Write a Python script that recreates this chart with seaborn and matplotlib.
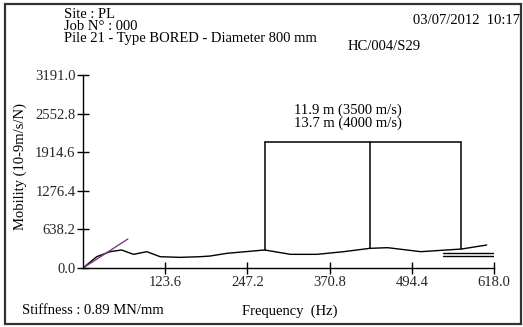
import matplotlib
matplotlib.use("Agg")
import matplotlib.pyplot as plt
import seaborn as sns
import pandas as pd
from matplotlib.patches import Rectangle

# Mobility spectrum (frequency in Hz, mobility in 10-9 m/s/N)
freq = [0, 20.6, 40.7, 58, 75.9, 96, 116, 146, 176, 191, 216.6, 273, 312,
        352, 392, 431, 458, 508, 569, 607]
mobility = [0, 187, 270, 298, 226, 270, 187, 176, 187, 198, 243, 298, 226,
            226, 270, 325, 336, 270, 314, 380]

# Dynamic stiffness slope
stiff_freq = [0, 67.4]
stiff_mob = [0, 479]

# Resonance markers
res_freq = [273, 431, 569]
res_base = [298, 325, 314]
res_top = 2088

# Mean mobility markers
mean_freq = [542, 618]
mean_levels = [248, 203]

x_ticks = [123.6, 247.2, 370.8, 494.4, 618.0]
y_ticks = [0.0, 638.2, 1276.4, 1914.6, 2552.8, 3191.0]

header_lines = ["Site : PL", "Job N° : 000",
                "Pile 21 - Type BORED - Diameter 800 mm"]

sns.set_style("white")
plt.rcParams["font.family"] = ["Liberation Serif", "DejaVu Serif"]
FS = 10.5

fig = plt.figure(figsize=(5.23, 3.27), dpi=100)
ax = fig.add_axes([0.1587, 0.1804, 0.7859, 0.5902])

df = pd.DataFrame({"freq": freq, "mobility": mobility})
sns.lineplot(data=df, x="freq", y="mobility", ax=ax, color="black",
             linewidth=1.0, sort=False)
sns.lineplot(x=stiff_freq, y=stiff_mob, ax=ax, color="#7a3c7e", linewidth=1.0)

for f, b in zip(res_freq, res_base):
    ax.plot([f, f], [b, res_top], color="black", linewidth=1.1)
ax.plot([res_freq[0], res_freq[-1]], [res_top, res_top], color="black",
        linewidth=1.1)

for lvl in mean_levels:
    ax.plot(mean_freq, [lvl, lvl], color="black", linewidth=1.0)

ax.set_xlim(0, 618)
ax.set_ylim(0, 3191)
ax.margins(0)
ax.set_xticks(x_ticks)
ax.set_xticklabels([f"{v:.1f}" for v in x_ticks], fontsize=FS)
ax.set_yticks(y_ticks)
ax.set_yticklabels([f"{v:.1f}" for v in y_ticks], fontsize=FS)
ax.tick_params(bottom=True, left=True, direction="inout", length=9,
               width=1.0, color="black", pad=1)
for s in ["top", "right"]:
    ax.spines[s].set_visible(False)
for s in ["left", "bottom"]:
    ax.spines[s].set_color("black")
    ax.spines[s].set_linewidth(1.0)
ax.set_xlabel("")
ax.set_ylabel("")

W, H = 523, 327


def ftxt(px, py, s, **kw):
    fig.text(px / W, 1 - py / H, s, fontsize=FS, color="black", **kw)


ftxt(64, 42, "\n".join(header_lines), va="baseline", ha="left",
     linespacing=0.92)
ftxt(520, 20, "03/07/2012  10:17", va="center", ha="right")
ftxt(348, 46, "HC/004/S29", va="center", ha="left")
ftxt(348, 117, "11.9 m (3500 m/s)\n13.7 m (4000 m/s)", va="center",
     ha="center", linespacing=0.98)
ftxt(20, 167, "Mobility (10-9m/s/N)", va="center", ha="center", rotation=90)
ftxt(22, 311, "Stiffness : 0.89 MN/mm", va="center", ha="left")
ftxt(242, 311, "Frequency  (Hz)", va="center", ha="left")

fig.patches.append(Rectangle((5 / W, 3 / H), 516 / W, 320 / H,
                             transform=fig.transFigure, fill=False,
                             edgecolor="#333333", linewidth=1.6))

fig.savefig("out.png", dpi=100)
